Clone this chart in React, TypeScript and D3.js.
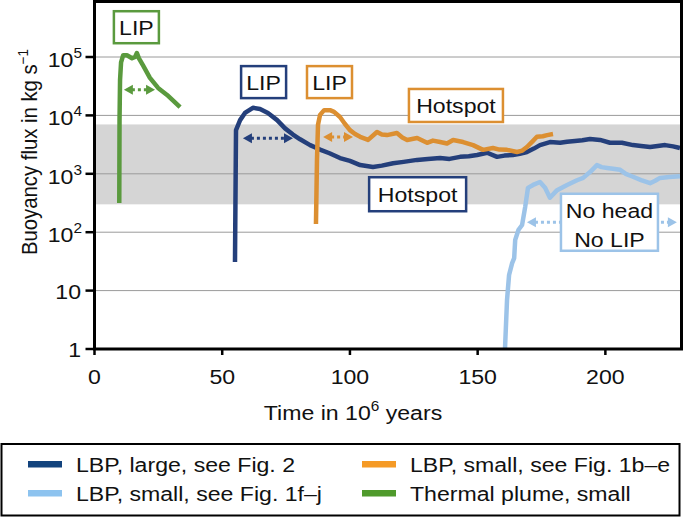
import React from "react";
import * as d3 from "d3";

// ---- data ----
const largeTime = [55.0, 55.4, 57.0, 58.9, 62.0, 64.8, 67.9, 71.5, 74.6, 77.7, 80.5, 84.4, 88.3, 92.0, 96.1, 100.0, 104.0, 109.0, 112.5, 116.9, 121.0, 126.3, 130.5, 135.3, 139.0, 143.1, 146.5, 149.8, 153.7, 157.6, 160.5, 163.8, 166.5, 169.3, 172.0, 174.4, 178.3, 182.3, 185.0, 188.1, 191.0, 194.0, 197.9, 201.8, 206.5, 210.8, 214.0, 217.5, 220.5, 223.4, 226.5, 229.2];
const largeFlux = [31, 5600, 8300, 11000, 13500, 12900, 11000, 8300, 6000, 4700, 3900, 3100, 2600, 2250, 1860, 1660, 1410, 1310, 1380, 1520, 1600, 1730, 1800, 1860, 1800, 1950, 2000, 2100, 2290, 1950, 2050, 2100, 2200, 2360, 2700, 3100, 3500, 3400, 3550, 3650, 3750, 3950, 3800, 3400, 3400, 3100, 3000, 2880, 3000, 3100, 2950, 2760];

const smallBTime = [86.7, 87.1, 87.5, 88.3, 89.9, 92.2, 93.8, 96.1, 98.0, 100.0, 102.0, 104.0, 107.1, 110.6, 112.5, 114.5, 118.4, 120.5, 122.4, 126.3, 130.2, 132.5, 135.3, 138.0, 140.4, 144.3, 148.2, 152.1, 156.0, 158.5, 161.5, 165.4, 167.5, 169.3, 171.5, 173.2, 175.5, 177.2, 179.5];
const smallBFlux = [138, 1740, 6900, 10200, 12300, 12300, 11500, 9400, 7200, 5600, 4800, 4300, 3800, 5200, 4700, 4600, 5000, 4200, 3800, 4100, 3400, 3700, 3500, 3300, 3800, 3500, 3100, 2570, 2760, 2600, 2570, 2360, 2500, 2880, 3600, 4300, 4400, 4600, 4800];

const smallFTime = [160.7, 161.5, 162.3, 163.5, 164.3, 164.7, 166.0, 167.4, 168.6, 169.7, 171.7, 174.4, 176.4, 178.3, 181.1, 185.0, 188.9, 191.3, 194.0, 196.7, 198.5, 200.7, 203.0, 205.8, 208.0, 210.8, 214.0, 217.5, 219.5, 221.4, 225.0, 229.2];
const smallFFlux = [1, 6.9, 18.5, 29.5, 36, 74, 110, 133, 270, 575, 645, 724, 575, 389, 525, 645, 776, 851, 1070, 1410, 1300, 1260, 1220, 1170, 1000, 890, 780, 690, 760, 851, 880, 910];

const thermalTime = [9.7, 9.8, 10.0, 10.4, 11.2, 12.7, 14.7, 15.9, 16.6, 17.4, 19.0, 21.7, 24.9, 28.4, 31.0, 33.5];
const thermalFlux = [316, 8300, 40000, 81000, 107000, 107000, 95000, 100000, 117000, 95000, 72000, 44000, 29500, 22400, 17500, 13800];

const xTicks = [0, 50, 100, 150, 200];
const yTicks = [1, 10, 100, 1000, 10000, 100000];
const bandRange = [300, 7000];

const legendLabels = ["LBP, large, see Fig. 2", "LBP, small, see Fig. 1b–e", "LBP, small, see Fig. 1f–j", "Thermal plume, small"];

// ---- styles ----
const FONT = "'Liberation Sans', Arial, Helvetica, sans-serif";
const C = {
  navy: "#243f7b",
  lblue: "#9cc3e8",
  orange: "#dc8f31",
  green: "#5a9a3e",
};
const legendColors = ["#12437d", "#f59a25", "#8dc3ef", "#4f9a2c"];

const x = d3.scaleLinear().domain([0, 230]).range([94.5, 682]);
const y = d3.scaleLog().domain([1, 1e6]).range([349, -1.4]);

const SX = 1.1;

function T({ x: tx, y: ty, anchor = "start", size = 21, fill = "#111", children }: any) {
  return (
    <text transform={`translate(${tx},${ty}) scale(${SX},1)`} textAnchor={anchor} fontSize={size} fontFamily={FONT} fill={fill}>
      {children}
    </text>
  );
}

const series = [
  { t: largeTime, f: largeFlux, color: C.navy },
  { t: smallFTime, f: smallFFlux, color: C.lblue },
  { t: smallBTime, f: smallBFlux, color: C.orange },
  { t: thermalTime, f: thermalFlux, color: C.green },
];

const boxes = [
  { t: 16.4, v: 10 ** 5.51, w: 45, h: 32, color: C.green, lines: ["LIP"] },
  { t: 66.2, v: 10 ** 4.57, w: 45, h: 32, color: C.navy, lines: ["LIP"] },
  { t: 92.0, v: 10 ** 4.57, w: 45, h: 32, color: C.orange, lines: ["LIP"] },
  { t: 141.5, v: 10 ** 4.17, w: 94, h: 33, color: C.orange, lines: ["Hotspot"] },
  { t: 126.5, v: 10 ** 2.65, w: 97, h: 34, color: C.navy, lines: ["Hotspot"] },
  { t: 201.6, v: 10 ** 2.17, w: 97, h: 57, color: C.lblue, lines: ["No head", "No LIP"] },
];

const arrows = [
  { t0: 11.5, t1: 23.7, v: 10 ** 4.44, color: C.green },
  { t0: 58.1, t1: 77.7, v: 10 ** 3.61, color: C.navy },
  { t0: 89.5, t1: 101.2, v: 10 ** 3.63, color: C.orange },
  { t0: 169.3, t1: 228.0, v: 10 ** 2.17, color: C.lblue },
];

function Arrow({ a }: any) {
  const x0 = x(a.t0), x1 = x(a.t1), yy = y(a.v);
  const L = 9, Hh = 5;
  return (
    <g>
      <line x1={x0 + L - 1} x2={x1 - L + 1} y1={yy} y2={yy} stroke={a.color} strokeWidth={3} strokeDasharray="3,3" />
      <polygon points={`${x0},${yy} ${x0 + L},${yy - Hh} ${x0 + L},${yy + Hh}`} fill={a.color} />
      <polygon points={`${x1},${yy} ${x1 - L},${yy - Hh} ${x1 - L},${yy + Hh}`} fill={a.color} />
    </g>
  );
}

export default function App() {
  const line = d3
    .line<[number, number]>()
    .x((d) => x(d[0]))
    .y((d) => y(d[1]));
  const [x0, x1] = x.range();
  const yb = y(1);
  return (
    <svg width={685} height={517} style={{ position: "absolute", left: 0, top: 0, background: "#fff" }}>
      <defs>
        <clipPath id="plot">
          <rect x={x0} y={0} width={x1 - x0} height={yb} />
        </clipPath>
      </defs>
      {/* band */}
      <rect x={x0} y={y(bandRange[1])} width={x1 - x0} height={y(bandRange[0]) - y(bandRange[1])} fill="#d5d5d5" />
      {/* grid */}
      {yTicks.slice(1).map((v) => (
        <line key={v} x1={x0} x2={x1} y1={y(v)} y2={y(v)} stroke="#9a9a9a" strokeWidth={1} />
      ))}
      {/* arrows */}
      {arrows.map((a, i) => (
        <Arrow key={i} a={a} />
      ))}
      {/* series */}
      <g clipPath="url(#plot)">
        {series.map((s, i) => (
          <path
            key={i}
            d={line(s.t.map((t, j) => [t, s.f[j]]) as [number, number][]) || ""}
            fill="none"
            stroke={s.color}
            strokeWidth={4.5}
            strokeLinejoin="round"
            strokeLinecap="butt"
          />
        ))}
      </g>
      {/* annotation boxes */}
      {boxes.map((b, i) => {
        const cx = x(b.t), cy = y(b.v);
        return (
          <g key={i}>
            <rect x={cx - b.w / 2} y={cy - b.h / 2} width={b.w} height={b.h} fill="#fff" stroke={b.color} strokeWidth={2.5} />
            {b.lines.length === 1 ? (
              <T x={cx} y={cy + 8} anchor="middle">{b.lines[0]}</T>
            ) : (
              <>
                <T x={cx} y={cy - 4.5} anchor="middle">{b.lines[0]}</T>
                <T x={cx} y={cy + 24.5} anchor="middle">{b.lines[1]}</T>
              </>
            )}
          </g>
        );
      })}
      {/* frame */}
      <rect x={x0} y={1.5} width={x1 - 0.5 - x0} height={yb - 1.5} fill="none" stroke="#000" strokeWidth={3} />
      {/* y ticks */}
      {yTicks.map((v) => {
        const e = Math.round(Math.log10(v));
        const yy = y(v);
        return (
          <g key={v}>
            <line x1={x0 - 9} x2={x0} y1={yy} y2={yy} stroke="#000" strokeWidth={2.5} />
            {e <= 1 ? (
              <T x={81} y={yy + 8} anchor="end">{String(v)}</T>
            ) : (
              <T x={82} y={yy + 10} anchor="end">
                10<tspan dy={-9} fontSize={14}>{e}</tspan>
              </T>
            )}
          </g>
        );
      })}
      {/* x ticks */}
      {xTicks.map((t) => (
        <g key={t}>
          <line x1={x(t)} x2={x(t)} y1={yb} y2={yb + 6} stroke="#000" strokeWidth={2.5} />
          <T x={x(t)} y={384} anchor="middle">{String(t)}</T>
        </g>
      ))}
      {/* axis titles */}
      <T x={353} y={420} anchor="middle">
        Time in 10<tspan dy={-9} fontSize={14}>6</tspan><tspan dy={9}> years</tspan>
      </T>
      <text transform="translate(37,152) rotate(-90) scale(1,1.1)" textAnchor="middle" fontSize={20.3} fontFamily={FONT} fill="#111">
        Buoyancy flux in kg s<tspan dy={-8} fontSize={13.5}>−1</tspan>
      </text>
      {/* legend */}
      <rect x={1.5} y={444} width={678} height={71.5} fill="#fff" stroke="#000" strokeWidth={2} />
      {legendLabels.map((lab, i) => {
        const col = i % 2, row = Math.floor(i / 2);
        const sx = col === 0 ? 28 : 362;
        const tx = col === 0 ? 76 : 410;
        const by = row === 0 ? 472 : 501;
        return (
          <g key={lab}>
            <rect x={sx} y={by - 11} width={34} height={6.5} fill={legendColors[i]} />
            <T x={tx} y={by}>{lab}</T>
          </g>
        );
      })}
    </svg>
  );
}
